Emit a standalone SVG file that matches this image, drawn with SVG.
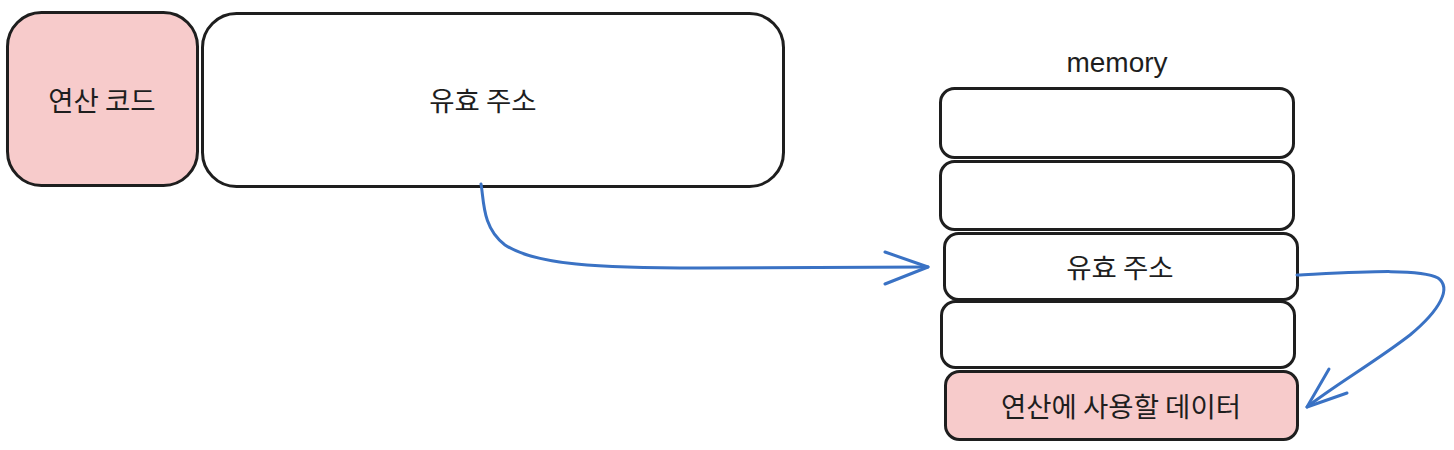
<svg xmlns="http://www.w3.org/2000/svg" width="1454" height="450" viewBox="0 0 1454 450">
<style>
.box{stroke:#1e1e1e;stroke-width:3;fill:#fff}
.pink{fill:#f7cbcb}
.t{font-family:"Noto Sans CJK KR","Liberation Sans",sans-serif;font-size:27.5px;fill:#1e1e1e;text-anchor:middle;dominant-baseline:central}
.m{font-family:"Liberation Sans",Arial,sans-serif;font-size:28px;fill:#1e1e1e;text-anchor:middle}
.c{fill:none;stroke:#3a72c4;stroke-width:3;stroke-linecap:round;stroke-linejoin:round}
</style>
<rect width="1454" height="450" fill="#fff"/>
<g id="opcode"><rect class="box pink" x="7.5" y="12.5" width="190" height="173" rx="34"/><text class="t" x="102" y="99">연산 코드</text></g>
<g id="address"><rect class="box" x="202.5" y="13.5" width="581" height="173" rx="34"/><text class="t" x="483" y="99">유효 주소</text></g>
<g id="memory-label"><text class="m" x="1117" y="72">memory</text></g>
<g id="mem1"><rect class="box" x="940.5" y="88.5" width="353" height="69" rx="14"/></g>
<g id="mem2"><rect class="box" x="940.5" y="161.5" width="353" height="68" rx="14"/></g>
<g id="mem3"><rect class="box" x="944.5" y="233.5" width="353" height="66" rx="14"/><text class="t" x="1120" y="266">유효 주소</text></g>
<g id="mem4"><rect class="box" x="941.5" y="301.5" width="353" height="66" rx="14"/></g>
<g id="mem5"><rect class="box pink" x="945.5" y="371.5" width="352" height="68" rx="14"/><text class="t" x="1121" y="405">연산에 사용할 데이터</text></g>
<g id="connectors">
<path class="c" d="M481,184 C484,200 482,228 505,245 C535,265 600,268 700,268 C800,268 880,267 928,267"/>
<path class="c" d="M885,252 L928,267 L885,284"/>
<path class="c" d="M1297,275 C1360,272 1420,268 1438,278 C1452,288 1440,310 1410,335 C1375,362 1335,385 1307,407"/>
<path class="c" d="M1329,369 L1307,407 L1347,393"/>
</g>
</svg>
